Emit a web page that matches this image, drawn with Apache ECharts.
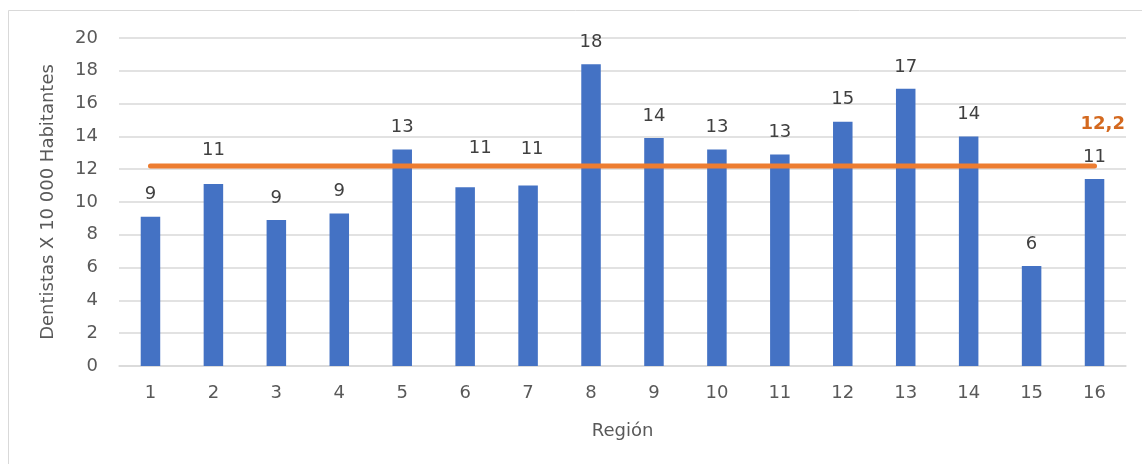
<!DOCTYPE html>
<html>
<head>
<meta charset="utf-8">
<script src="https://cdn.jsdelivr.net/npm/echarts@6/dist/echarts.min.js"></script>
<style>
  html, body { margin: 0; padding: 0; background: #ffffff; }
  #chart { width: 1142px; height: 464px; }
</style>
</head>
<body>
<div id="chart"></div>
<script>
// Dentists per 10 000 inhabitants, by region
const regiones = ['1','2','3','4','5','6','7','8','9','10','11','12','13','14','15','16'];
const dentistas = [9.1, 11.1, 8.9, 9.3, 13.2, 10.9, 11.0, 18.4, 13.9, 13.2, 12.9, 14.9, 16.9, 14.0, 6.1, 11.4];
const promedio = 12.2;
const yTicks = [0, 2, 4, 6, 8, 10, 12, 14, 16, 18, 20];

// Label nudges for bars whose value label would sit on the average line
const labelNudge = { 1: [0, -12], 5: [15, -17], 6: [4, -14] };

const FONT = 'DejaVu Sans';
const FS = 18;
const TEXT = '#595959';

const barData = dentistas.map((v, i) => {
  const item = { value: v };
  if (labelNudge[i]) item.label = { offset: labelNudge[i] };
  return item;
});

const lineData = regiones.map(() => promedio);

const chart = echarts.init(document.getElementById('chart'), null, { renderer: 'canvas' });
chart.setOption({
  animation: false,
  backgroundColor: '#ffffff',
  textStyle: { fontFamily: FONT },
  graphic: [{
    type: 'rect',
    shape: { x: 8.5, y: 10.5, width: 1160, height: 480 },
    style: { fill: 'none', stroke: '#D9D9D9', lineWidth: 1 },
    silent: true,
    z: -10
  }],
  grid: { left: 119, right: 16, top: 38, bottom: 98 },
  xAxis: {
    type: 'category',
    data: regiones,
    name: 'Región',
    nameLocation: 'middle',
    nameGap: 56,
    nameTextStyle: { color: TEXT, fontSize: FS, fontFamily: FONT },
    axisLine: { lineStyle: { color: '#D9D9D9', width: 1.5 } },
    axisTick: { show: false },
    axisLabel: { color: TEXT, fontSize: FS, margin: 18, fontFamily: FONT }
  },
  yAxis: {
    type: 'value',
    min: yTicks[0],
    max: yTicks[yTicks.length - 1],
    interval: yTicks[1] - yTicks[0],
    name: 'Dentistas X 10 000 Habitantes',
    nameLocation: 'middle',
    nameGap: 62,
    nameRotate: 90,
    nameTextStyle: { color: TEXT, fontSize: FS, fontFamily: FONT },
    axisLine: { show: false },
    axisTick: { show: false },
    axisLabel: { color: TEXT, fontSize: FS, margin: 21, fontFamily: FONT },
    splitLine: { lineStyle: { color: '#D9D9D9', width: 1.5 } }
  },
  series: [
    {
      type: 'bar',
      data: barData,
      barWidth: '31%',
      itemStyle: { color: '#4472C4' },
      label: {
        show: true,
        position: 'top',
        distance: 13,
        color: '#404040',
        fontSize: FS,
        fontFamily: FONT,
        formatter: p => String(Math.round(p.value))
      },
      z: 2
    },
    {
      type: 'line',
      data: lineData,
      symbol: 'none',
      lineStyle: { color: '#ED7D31', width: 5, cap: 'round' },
      endLabel: {
        show: true,
        offset: [-22, -42],
        color: '#D4691F',
        fontWeight: 'bold',
        fontSize: FS,
        fontFamily: FONT,
        formatter: p => String(p.value).replace('.', ',')
      },
      z: 3
    }
  ]
});
</script>
</body>
</html>
